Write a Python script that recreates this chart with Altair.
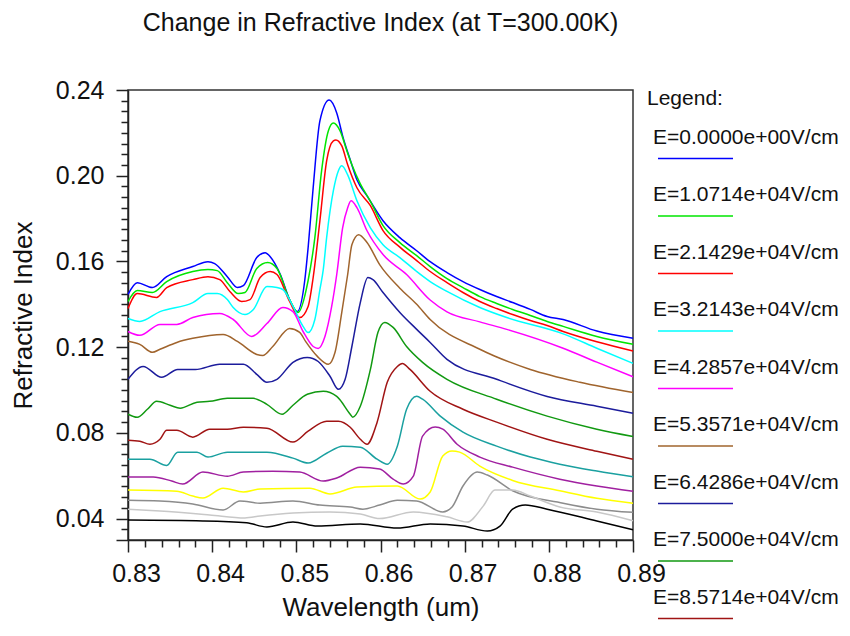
import altair as alt
import pandas as pd

FONT = "Liberation Sans, Arial, Helvetica, sans-serif"

E_LABELS = [
    "E=0.0000e+00V/cm", "E=1.0714e+04V/cm", "E=2.1429e+04V/cm", "E=3.2143e+04V/cm",
    "E=4.2857e+04V/cm", "E=5.3571e+04V/cm", "E=6.4286e+04V/cm", "E=7.5000e+04V/cm",
    "E=8.5714e+04V/cm", "E=9.6429e+04V/cm", "E=1.0714e+05V/cm", "E=1.1786e+05V/cm",
    "E=1.2857e+05V/cm", "E=1.3929e+05V/cm", "E=1.5000e+05V/cm",
]
# legend entries that fit in the visible window (the rest run off the bottom in the reference)
N_LEGEND_VISIBLE = 9
COLORS = ["#0000ff", "#00e600", "#ff0000", "#00ffff", "#ff00ff", "#a0642d", "#1c1c9c",
          "#119911", "#a01414", "#1aa0a0", "#a020a0", "#ffff00", "#8c8c8c", "#c8c8c8", "#000000"]

WL_0 = [0.8300,0.8311,0.8329,0.8346,0.8377,0.8395,0.8403,0.8418,0.8430,0.8437,0.8453,0.8463,0.8469,0.8481,0.8492,0.8501,0.8510,0.8514,0.8520,0.8528,0.8539,0.8548,0.8555,0.8564,0.8572,0.8584,0.8603,0.8623,0.8643,0.8659,0.8679,0.8698,0.8718,0.8738,0.8757,0.8778,0.8798,0.8817,0.8857,0.8900]
N_0 = [0.1446,0.1501,0.1478,0.1529,0.1576,0.1599,0.1590,0.1529,0.1478,0.1487,0.1618,0.1641,0.1622,0.1539,0.1422,0.1366,0.1511,0.1664,0.1944,0.2256,0.2353,0.2293,0.2186,0.2074,0.1981,0.1906,0.1790,0.1711,0.1650,0.1599,0.1548,0.1506,0.1469,0.1436,0.1408,0.1376,0.1343,0.1329,0.1275,0.1241]

WL_1 = [0.8300,0.8311,0.8329,0.8346,0.8377,0.8395,0.8406,0.8418,0.8431,0.8439,0.8453,0.8466,0.8477,0.8492,0.8502,0.8514,0.8522,0.8530,0.8538,0.8544,0.8552,0.8560,0.8566,0.8576,0.8588,0.8603,0.8623,0.8643,0.8659,0.8679,0.8698,0.8718,0.8738,0.8757,0.8778,0.8798,0.8817,0.8857,0.8900]
N_1 = [0.1413,0.1464,0.1455,0.1506,0.1553,0.1562,0.1557,0.1501,0.1450,0.1455,0.1567,0.1595,0.1567,0.1422,0.1362,0.1511,0.1711,0.2023,0.2209,0.2246,0.2209,0.2116,0.2051,0.1962,0.1880,0.1767,0.1688,0.1627,0.1576,0.1520,0.1478,0.1436,0.1404,0.1376,0.1348,0.1320,0.1297,0.1250,0.1213]

WL_2 = [0.8300,0.8311,0.8334,0.8346,0.8377,0.8395,0.8409,0.8421,0.8435,0.8445,0.8457,0.8469,0.8477,0.8492,0.8504,0.8514,0.8520,0.8528,0.8536,0.8544,0.8547,0.8554,0.8561,0.8572,0.8588,0.8603,0.8623,0.8643,0.8659,0.8679,0.8698,0.8718,0.8738,0.8757,0.8778,0.8798,0.8817,0.8857,0.8900]
N_2 = [0.1380,0.1450,0.1432,0.1478,0.1515,0.1529,0.1515,0.1460,0.1413,0.1422,0.1525,0.1553,0.1539,0.1413,0.1338,0.1390,0.1525,0.1790,0.2069,0.2163,0.2167,0.2139,0.2051,0.1944,0.1860,0.1744,0.1667,0.1604,0.1553,0.1501,0.1455,0.1413,0.1380,0.1352,0.1324,0.1301,0.1273,0.1225,0.1182]

WL_3 = [0.8300,0.8314,0.8338,0.8377,0.8395,0.8406,0.8418,0.8425,0.8439,0.8449,0.8465,0.8477,0.8484,0.8496,0.8508,0.8514,0.8522,0.8528,0.8532,0.8536,0.8544,0.8550,0.8554,0.8561,0.8572,0.8588,0.8603,0.8623,0.8643,0.8659,0.8679,0.8718,0.8750,0.8817,0.8857,0.8900]
N_3 = [0.1334,0.1320,0.1366,0.1408,0.1450,0.1450,0.1422,0.1385,0.1352,0.1376,0.1483,0.1478,0.1469,0.1390,0.1297,0.1268,0.1329,0.1469,0.1562,0.1711,0.1930,0.2023,0.2046,0.2004,0.1883,0.1757,0.1678,0.1618,0.1553,0.1506,0.1460,0.1385,0.1338,0.1262,0.1195,0.1124]

WL_4 = [0.8300,0.8314,0.8338,0.8358,0.8377,0.8409,0.8425,0.8447,0.8465,0.8484,0.8496,0.8508,0.8520,0.8526,0.8534,0.8542,0.8548,0.8555,0.8561,0.8565,0.8572,0.8584,0.8603,0.8631,0.8659,0.8679,0.8718,0.8750,0.8817,0.8857,0.8900]
N_4 = [0.1273,0.1255,0.1306,0.1306,0.1338,0.1357,0.1329,0.1250,0.1310,0.1385,0.1366,0.1273,0.1203,0.1194,0.1250,0.1390,0.1539,0.1757,0.1851,0.1883,0.1851,0.1743,0.1632,0.1539,0.1420,0.1365,0.1318,0.1283,0.1195,0.1130,0.1062]

WL_5 = [0.8300,0.8314,0.8329,0.8338,0.8358,0.8377,0.8413,0.8430,0.8453,0.8460,0.8472,0.8492,0.8504,0.8511,0.8525,0.8538,0.8546,0.8554,0.8561,0.8566,0.8574,0.8584,0.8599,0.8623,0.8643,0.8659,0.8718,0.8778,0.8837,0.8900]
N_5 = [0.1227,0.1213,0.1176,0.1190,0.1222,0.1241,0.1259,0.1227,0.1166,0.1161,0.1203,0.1287,0.1269,0.1227,0.1157,0.1120,0.1176,0.1362,0.1539,0.1678,0.1725,0.1688,0.1585,0.1475,0.1400,0.1329,0.1190,0.1096,0.1036,0.0988]

WL_6 = [0.8300,0.8318,0.8340,0.8359,0.8380,0.8409,0.8437,0.8453,0.8465,0.8477,0.8496,0.8513,0.8526,0.8540,0.8550,0.8558,0.8566,0.8576,0.8585,0.8591,0.8603,0.8623,0.8643,0.8659,0.8679,0.8738,0.8798,0.8857,0.8900]
N_6 = [0.1050,0.1110,0.1059,0.1096,0.1096,0.1120,0.1120,0.1073,0.1036,0.1050,0.1129,0.1152,0.1133,0.1064,0.1003,0.1050,0.1203,0.1408,0.1525,0.1515,0.1455,0.1362,0.1283,0.1222,0.1143,0.1050,0.0970,0.0924,0.0891]

WL_7 = [0.8300,0.8311,0.8323,0.8334,0.8350,0.8362,0.8382,0.8397,0.8418,0.8449,0.8465,0.8483,0.8496,0.8513,0.8532,0.8548,0.8564,0.8567,0.8576,0.8588,0.8597,0.8605,0.8615,0.8631,0.8650,0.8679,0.8738,0.8798,0.8857,0.8900]
N_7 = [0.0887,0.0873,0.0910,0.0947,0.0929,0.0915,0.0943,0.0947,0.0961,0.0961,0.0933,0.0887,0.0929,0.0980,0.0994,0.0970,0.0887,0.0873,0.0924,0.1096,0.1269,0.1315,0.1292,0.1203,0.1129,0.1050,0.0957,0.0878,0.0817,0.0783]

WL_8 = [0.8300,0.8314,0.8326,0.8338,0.8346,0.8358,0.8377,0.8397,0.8418,0.8437,0.8465,0.8496,0.8514,0.8536,0.8550,0.8564,0.8576,0.8584,0.8596,0.8608,0.8620,0.8626,0.8635,0.8659,0.8698,0.8738,0.8798,0.8857,0.8900]
N_8 = [0.0766,0.0761,0.0747,0.0770,0.0812,0.0812,0.0780,0.0817,0.0817,0.0826,0.0822,0.0757,0.0808,0.0854,0.0854,0.0826,0.0770,0.0747,0.0850,0.1036,0.1110,0.1124,0.1096,0.0994,0.0910,0.0850,0.0770,0.0714,0.0677]

WL_9 = [0.8300,0.8326,0.8346,0.8359,0.8382,0.8395,0.8418,0.8465,0.8496,0.8514,0.8536,0.8555,0.8576,0.8596,0.8608,0.8620,0.8631,0.8643,0.8650,0.8671,0.8698,0.8738,0.8778,0.8813,0.8857,0.8900]
N_9 = [0.0677,0.0677,0.0648,0.0710,0.0710,0.0687,0.0710,0.0710,0.0682,0.0659,0.0705,0.0738,0.0733,0.0677,0.0654,0.0738,0.0910,0.0971,0.0957,0.0878,0.0803,0.0738,0.0687,0.0654,0.0622,0.0595]

WL_10 = [0.8300,0.8330,0.8352,0.8365,0.8389,0.8418,0.8437,0.8472,0.8504,0.8532,0.8548,0.8576,0.8599,0.8615,0.8627,0.8639,0.8650,0.8665,0.8674,0.8691,0.8718,0.8757,0.8813,0.8857,0.8900]
N_10 = [0.0594,0.0594,0.0575,0.0561,0.0617,0.0598,0.0617,0.0621,0.0617,0.0575,0.0589,0.0640,0.0631,0.0584,0.0561,0.0598,0.0785,0.0827,0.0817,0.0747,0.0687,0.0640,0.0584,0.0552,0.0527]

WL_11 = [0.8300,0.8358,0.8377,0.8389,0.8413,0.8437,0.8457,0.8516,0.8540,0.8572,0.8620,0.8647,0.8659,0.8674,0.8685,0.8694,0.8718,0.8757,0.8813,0.8857,0.8900]
N_11 = [0.0533,0.0528,0.0505,0.0496,0.0542,0.0524,0.0538,0.0542,0.0515,0.0547,0.0552,0.0491,0.0524,0.0692,0.0715,0.0710,0.0645,0.0578,0.0530,0.0495,0.0472]

WL_12 = [0.8300,0.8338,0.8377,0.8413,0.8433,0.8457,0.8496,0.8528,0.8564,0.8579,0.8599,0.8620,0.8643,0.8674,0.8685,0.8698,0.8715,0.8727,0.8757,0.8817,0.8857,0.8900]
N_12 = [0.0486,0.0482,0.0468,0.0440,0.0482,0.0472,0.0482,0.0463,0.0454,0.0444,0.0463,0.0486,0.0482,0.0431,0.0454,0.0552,0.0617,0.0603,0.0530,0.0472,0.0444,0.0429]

WL_13 = [0.8300,0.8338,0.8397,0.8439,0.8457,0.8496,0.8540,0.8576,0.8599,0.8639,0.8679,0.8703,0.8722,0.8736,0.8757,0.8778,0.8813,0.8857,0.8900]
N_13 = [0.0444,0.0435,0.0417,0.0403,0.0412,0.0426,0.0431,0.0421,0.0400,0.0431,0.0408,0.0384,0.0458,0.0533,0.0533,0.0505,0.0454,0.0431,0.0390]

WL_14 = [0.8300,0.8389,0.8441,0.8465,0.8496,0.8525,0.8576,0.8620,0.8659,0.8698,0.8727,0.8742,0.8757,0.8772,0.8798,0.8857,0.8900]
N_14 = [0.0393,0.0389,0.0380,0.0361,0.0384,0.0365,0.0375,0.0356,0.0375,0.0365,0.0342,0.0365,0.0444,0.0463,0.0444,0.0389,0.0348]

WLS = [WL_0, WL_1, WL_2, WL_3, WL_4, WL_5, WL_6, WL_7, WL_8, WL_9, WL_10, WL_11, WL_12, WL_13, WL_14]
NS = [N_0, N_1, N_2, N_3, N_4, N_5, N_6, N_7, N_8, N_9, N_10, N_11, N_12, N_13, N_14]

X_TICKS = [round(0.830 + 0.002 * i, 3) for i in range(31)]
Y_TICKS = [round(0.030 + 0.005 * i, 3) for i in range(43)]

rows = []
for k, (wl, nn) in enumerate(zip(WLS, NS)):
    for a, b in zip(wl, nn):
        rows.append({"wl": a, "n": b, "label": E_LABELS[k], "k": k})
df = pd.DataFrame(rows)
leg = pd.DataFrame({"label": E_LABELS[:N_LEGEND_VISIBLE],
                    "rank": list(range(N_LEGEND_VISIBLE))})

color_scale = alt.Scale(domain=E_LABELS, range=COLORS)
x_major = "abs(datum.value*100 - round(datum.value*100)) < 0.01"
y_major = "abs(datum.value*25 - round(datum.value*25)) < 0.01"

lines = alt.Chart(df).mark_line(strokeWidth=1.5, interpolate="monotone").encode(
    x=alt.X("wl:Q", scale=alt.Scale(domain=[0.83, 0.89], nice=False, zero=False),
            axis=alt.Axis(values=X_TICKS, format=".2f", title="Wavelength (um)",
                          labelExpr=f"{x_major} ? datum.label : ''",
                          tickSize={"condition": {"test": x_major, "value": 12}, "value": 7},
                          labelPadding=9, labelOffset=8, titlePadding=8,
                          labelOverlap=False, labelFlush=False)),
    y=alt.Y("n:Q", scale=alt.Scale(domain=[0.03, 0.24], nice=False, zero=False),
            axis=alt.Axis(values=Y_TICKS, format=".2f", title="Refractive Index",
                          labelExpr=f"{y_major} ? datum.label : ''",
                          tickSize={"condition": {"test": f"{y_major} || datum.value < 0.0301", "value": 12}, "value": 7},
                          labelPadding=12, titlePadding=19,
                          labelOverlap=False, labelFlush=False)),
    color=alt.Color("label:N", scale=color_scale, legend=None),
    order=alt.Order("wl:Q"),
)

legend_rules = alt.Chart(leg).mark_rule(strokeWidth=1.5).encode(
    x=alt.value(530), x2=alt.value(605),
    y=alt.Y("rank:Q", scale=alt.Scale(domain=[0, 8], range=[68.5, 528.5]), axis=None),
    color=alt.Color("label:N", scale=color_scale, legend=None),
)
legend_text = alt.Chart(leg).mark_text(align="left", baseline="middle", fontSize=21,
                                       font=FONT, color="#111111").encode(
    x=alt.value(525),
    y=alt.Y("rank:Q", scale=alt.Scale(domain=[0, 8], range=[47.5, 507.5]), axis=None),
    text="label:N",
)
legend_head = alt.Chart(pd.DataFrame({"t": ["Legend:"]})).mark_text(
    align="left", baseline="middle", fontSize=21, font=FONT, color="#111111").encode(
    x=alt.value(519), y=alt.value(9), text="t:N")

chart = alt.layer(lines, legend_rules, legend_text, legend_head).resolve_scale(
    y="independent"
).properties(
    width=505, height=450,
    padding={"left": 120, "top": 82, "right": 209, "bottom": 84},
    autosize=alt.AutoSizeParams(type="none"),
    title=alt.TitleParams("Change in Refractive Index (at T=300.00K)", font=FONT, fontSize=25,
                          fontWeight="normal", anchor="middle", frame="group", offset=42,
                          color="#111111"),
).configure_view(stroke="#333333", strokeWidth=1.5).configure_axis(
    grid=False, domainColor="#222222", domainWidth=1.5, tickColor="#222222", tickWidth=1.5,
    labelFont=FONT, labelFontSize=25, labelColor="#111111",
    titleFont=FONT, titleFontSize=26, titleFontWeight="normal", titleColor="#111111",
)

chart.save("out.html", embed_options={"renderer": "svg", "actions": False})
